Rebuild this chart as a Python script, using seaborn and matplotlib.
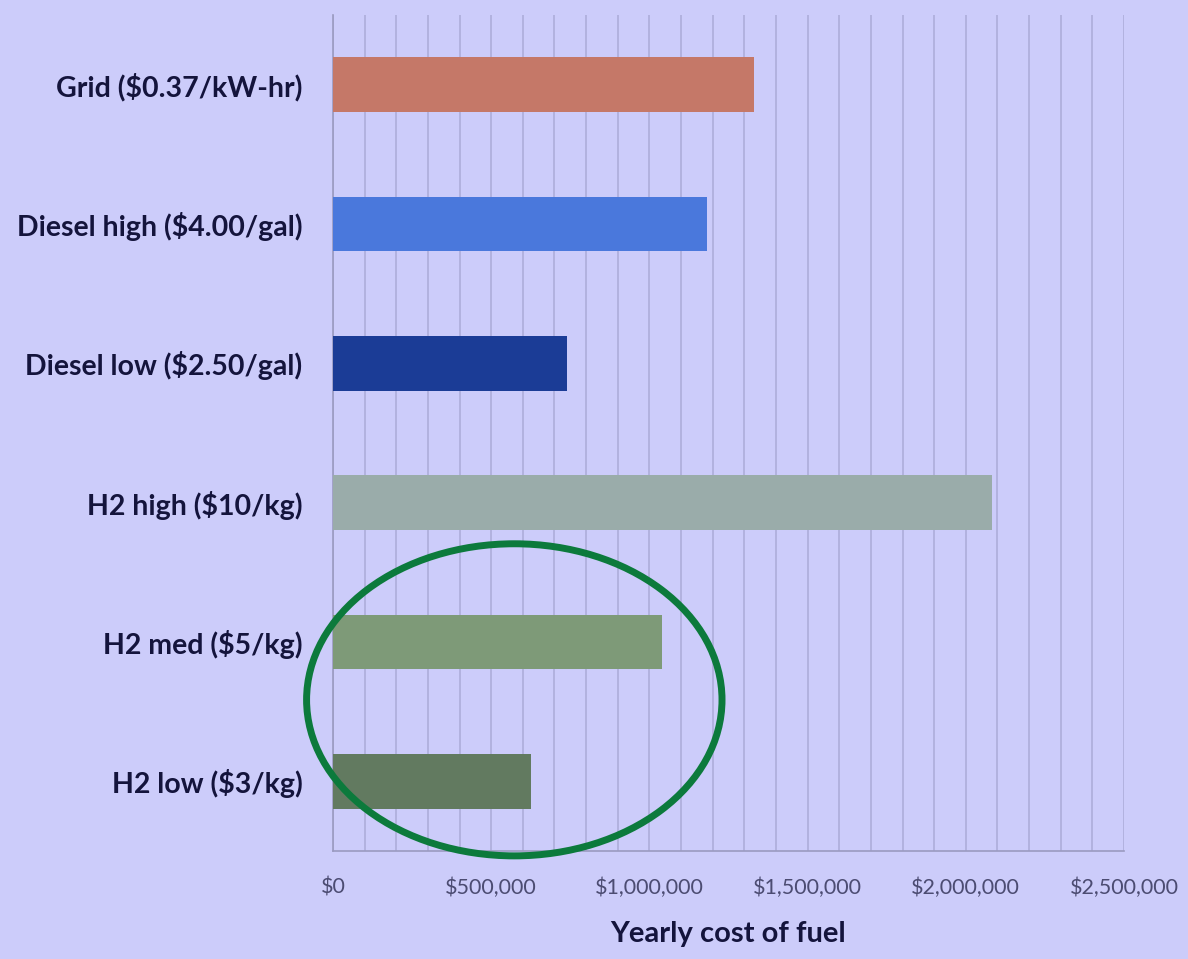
import matplotlib
matplotlib.use("Agg")
import matplotlib.pyplot as plt
import seaborn as sns
import pandas as pd
import numpy as np
from matplotlib.patches import Ellipse
from matplotlib.ticker import MultipleLocator, FuncFormatter

categories = ["Grid ($0.37/kW-hr)", "Diesel high ($4.00/gal)", "Diesel low ($2.50/gal)",
              "H2 high ($10/kg)", "H2 med ($5/kg)", "H2 low ($3/kg)"]
costs = [1330000, 1182000, 738000, 2082000, 1040000, 625000]
colors = ["#c57868", "#4a78dc", "#1b3c96", "#9aacaa", "#7e9a78", "#627a60"]
x_ticks = [0, 500000, 1000000, 1500000, 2000000, 2500000]

df = pd.DataFrame({"category": categories, "cost": costs})

sns.set_theme(style="white")
plt.rcParams['font.family'] = ['Lato', 'DejaVu Sans']

bg = "#ccccfa"
fig = plt.figure(figsize=(11.88, 9.59), dpi=100, facecolor=bg)
ax = fig.add_axes([333/1188, 1-851/959, (1124-333)/1188, (851-15)/959])
ax.set_facecolor(bg)

sns.barplot(data=df, y="category", x="cost", hue="category", palette=colors,
            order=categories, hue_order=categories, width=0.39, legend=False,
            saturation=1, linewidth=0, ax=ax, zorder=3)

ax.set_xlim(0, 2500000)
ax.set_ylim(5.5, -0.5)
ax.xaxis.set_minor_locator(MultipleLocator(100000))
ax.set_xticks(x_ticks)
ax.xaxis.set_major_formatter(FuncFormatter(lambda v, p: "${:,.0f}".format(v)))
ax.grid(False)
ax.grid(True, axis="x", which="both", color="#adadda", linewidth=1.2, zorder=0)
ax.set_axisbelow(True)

ax.set_yticks(range(len(categories)))
ax.set_yticklabels(categories)
ax.set_yticks(np.arange(-0.5, 6, 1), minor=True)
ax.tick_params(axis="y", which="major", length=0, pad=22, labelsize=20.5,
               labelcolor="#14143c")
ax.tick_params(axis="y", which="minor", length=7, width=1.2, color="#8c8cb4", direction="out")
for lbl in ax.get_yticklabels():
    lbl.set_fontweight("bold")
ax.tick_params(axis="x", which="major", length=8, width=1.2, color="#8c8cb4",
               direction="out", pad=11, labelsize=15.5, labelcolor="#4c4c72")
ax.tick_params(axis="x", which="minor", length=0)

for s in ["top", "right"]:
    ax.spines[s].set_visible(False)
for s in ["left", "bottom"]:
    ax.spines[s].set_color("#9a9ac0")
    ax.spines[s].set_linewidth(1.2)

ax.set_ylabel("")
ax.set_xlabel("Yearly cost of fuel", fontsize=21, fontweight="bold", color="#14143c", labelpad=17)

ell = Ellipse((573000, 4.415), 1313000, 2.24, fill=False, edgecolor="#0c7a3c",
              linewidth=5, clip_on=False, zorder=5)
ax.add_patch(ell)

fig.savefig("out.png", dpi=100, facecolor=bg)
